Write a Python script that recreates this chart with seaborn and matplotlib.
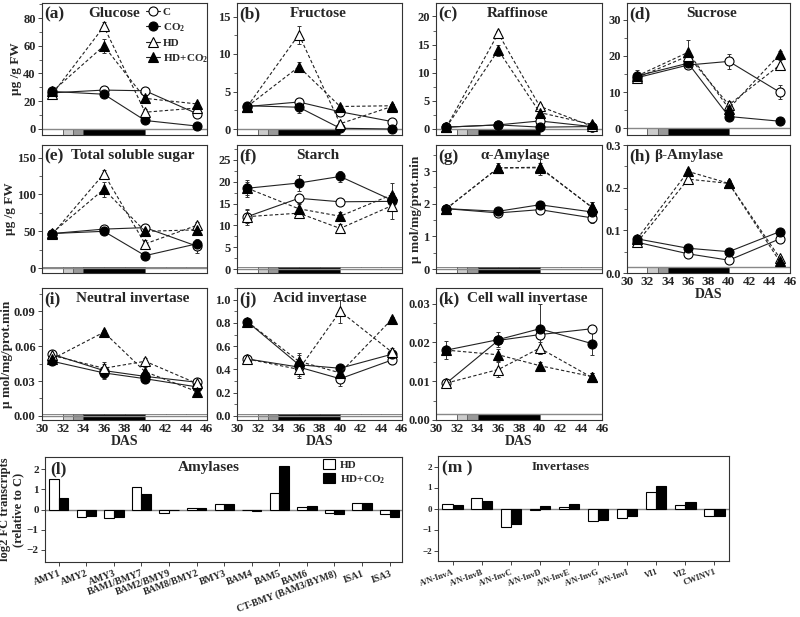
import numpy as np
import pandas as pd
import matplotlib
matplotlib.use("Agg")
import matplotlib.pyplot as plt
from matplotlib.patches import Rectangle, Patch
from matplotlib.lines import Line2D
from matplotlib.ticker import MultipleLocator, AutoMinorLocator, FormatStrFormatter
import seaborn as sns

# ---- data ----
days = [31, 36, 40, 45]
treatments = ["C", "CO2", "HD", "HD+CO2"]
legend_labels = ["C", "CO$_2$", "HD", "HD+CO$_2$"]

# treatment phases drawn as the strip under each time course
phase_edges = [30, 32, 33, 34, 40, 46]
phase_colors = ["white", "#cccccc", "#999999", "black", "white"]

glucose = {"C": [26, 28, 27.5, 11], "CO2": [27, 25, 6, 2],
           "HD": [25, 74, 12, 15], "HD+CO2": [27, 60, 22, 18]}
glucose_err = {"C": [1, 1, 1.5, 2], "CO2": [1, 1.5, 1, 1],
               "HD": [1.5, 3, 2, 2], "HD+CO2": [1, 5, 2, 1.5]}

fructose = {"C": [3.0, 3.6, 2.3, 1.0], "CO2": [3.1, 2.9, 0.1, 0.0],
            "HD": [3.0, 12.6, 0.7, 3.0], "HD+CO2": [3.0, 8.3, 3.0, 3.1]}
fructose_err = {"C": [0.3, 0.3, 0.5, 0.2], "CO2": [0.3, 0.8, 0.1, 0.1],
                "HD": [0.3, 1.2, 0.3, 0.3], "HD+CO2": [0.3, 0.6, 0.2, 0.2]}

raffinose = {"C": [0.3, 0.7, 1.4, 0.4], "CO2": [0.3, 0.7, 0.3, 0.4],
             "HD": [0.3, 17.0, 4.0, 0.5], "HD+CO2": [0.3, 14.0, 2.9, 0.8]}
raffinose_err = {"C": [0.1, 0.2, 0.4, 0.2], "CO2": [0.1, 0.2, 0.1, 0.2],
                 "HD": [0.1, 0.5, 0.5, 0.2], "HD+CO2": [0.1, 1.0, 0.8, 0.5]}

sucrose = {"C": [14, 17.5, 18.5, 10], "CO2": [14.5, 18, 3.3, 2],
           "HD": [14, 20, 6.5, 17.5], "HD+CO2": [14.5, 21, 5.5, 20.5]}
sucrose_err = {"C": [1, 1, 2, 2], "CO2": [1.5, 1, 0.8, 0.5],
               "HD": [1, 1.5, 1, 1.5], "HD+CO2": [1, 3.5, 1, 1]}

total_sugar = {"C": [47, 53, 55, 30], "CO2": [47, 50, 17, 33],
               "HD": [46, 128, 33, 58], "HD+CO2": [48, 107, 50, 52]}
total_sugar_err = {"C": [3, 3, 4, 10], "CO2": [3, 4, 3, 5],
                   "HD": [3, 5, 5, 5], "HD+CO2": [3, 10, 6, 4]}

starch = {"C": [12, 16.2, 15.4, 15.5], "CO2": [18.5, 19.7, 21.2, 15.8],
          "HD": [12, 12.8, 9.3, 14.5], "HD+CO2": [18.5, 13.8, 12.1, 17]}
starch_err = {"C": [1.5, 1, 0.5, 1], "CO2": [2, 1.8, 1.2, 1.5],
              "HD": [1.8, 1, 1, 3], "HD+CO2": [1.5, 1, 1, 2.8]}

alpha_amylase = {"C": [1.85, 1.72, 1.82, 1.57], "CO2": [1.85, 1.77, 1.97, 1.75],
                 "HD": [1.85, 3.1, 3.1, 1.9], "HD+CO2": [1.85, 3.1, 3.12, 1.9]}
alpha_amylase_err = {"C": [0.1, 0.1, 0.1, 0.15], "CO2": [0.1, 0.1, 0.1, 0.1],
                     "HD": [0.1, 0.15, 0.15, 0.15], "HD+CO2": [0.1, 0.1, 0.25, 0.15]}

beta_amylase = {"C": [0.072, 0.045, 0.030, 0.080], "CO2": [0.080, 0.058, 0.050, 0.097],
                "HD": [0.072, 0.220, 0.210, 0.035], "HD+CO2": [0.080, 0.238, 0.210, 0.027]}
beta_amylase_err = {"C": [0.005, 0.005, 0.004, 0.008], "CO2": [0.005, 0.006, 0.005, 0.006],
                    "HD": [0.005, 0.008, 0.008, 0.006], "HD+CO2": [0.005, 0.006, 0.006, 0.005]}

neutral_inv = {"C": [0.053, 0.039, 0.034, 0.029], "CO2": [0.047, 0.037, 0.032, 0.025],
               "HD": [0.052, 0.041, 0.047, 0.028], "HD+CO2": [0.049, 0.072, 0.038, 0.021]}
neutral_inv_err = {"C": [0.002, 0.007, 0.003, 0.002], "CO2": [0.002, 0.004, 0.004, 0.003],
                   "HD": [0.002, 0.004, 0.003, 0.002], "HD+CO2": [0.002, 0.002, 0.004, 0.004]}

acid_inv = {"C": [0.49, 0.42, 0.32, 0.48], "CO2": [0.81, 0.44, 0.41, 0.53],
            "HD": [0.49, 0.40, 0.90, 0.55], "HD+CO2": [0.81, 0.47, 0.37, 0.83]}
acid_inv_err = {"C": [0.03, 0.03, 0.06, 0.03], "CO2": [0.03, 0.10, 0.03, 0.03],
                "HD": [0.03, 0.07, 0.10, 0.03], "HD+CO2": [0.03, 0.05, 0.03, 0.02]}

cw_inv = {"C": [0.0095, 0.0205, 0.0220, 0.0235], "CO2": [0.0180, 0.0207, 0.0235, 0.0197],
          "HD": [0.0095, 0.0130, 0.0185, 0.0110], "HD+CO2": [0.0180, 0.0168, 0.0140, 0.0112]}
cw_inv_err = {"C": [0.0005, 0.001, 0.001, 0.001], "CO2": [0.0023, 0.002, 0.0065, 0.003],
              "HD": [0.0005, 0.002, 0.0015, 0.001], "HD+CO2": [0.0008, 0.0015, 0.001, 0.0008]}

amylase_genes = ["AMY1", "AMY2", "AMY3", "BAM1/BMY7", "BAM2/BMY9", "BAM8/BMY2", "BMY3",
                 "BAM4", "BAM5", "BAM6", "CT-BMY (BAM3/BYM8)", "ISA1", "ISA3"]
amylase_hd = [1.5, -0.35, -0.42, 1.1, -0.15, 0.08, 0.25, 0.0, 0.8, 0.12, -0.15, 0.30, -0.22]
amylase_hdco2 = [0.55, -0.30, -0.37, 0.75, 0.0, 0.05, 0.28, -0.05, 2.15, 0.15, -0.20, 0.33, -0.35]

invertase_genes = ["A/N-InvA", "A/N-InvB", "A/N-InvC", "A/N-InvD", "A/N-InvE",
                   "A/N-InvG", "A/N-InvI", "VI1", "VI2", "CWINV1"]
invertase_hd = [0.22, 0.48, -0.88, -0.08, 0.05, -0.58, -0.45, 0.78, 0.15, -0.38]
invertase_hdco2 = [0.15, 0.38, -0.72, 0.12, 0.20, -0.55, -0.38, 1.05, 0.30, -0.38]

# ---- style ----
sns.set_style("ticks")
plt.rcParams["font.family"] = ["Liberation Serif", "DejaVu Serif"]
plt.rcParams["font.weight"] = "bold"
plt.rcParams["axes.labelweight"] = "bold"
plt.rcParams["mathtext.fontset"] = "custom"
plt.rcParams["mathtext.rm"] = "Liberation Serif:bold"
plt.rcParams["mathtext.bf"] = "Liberation Serif:bold"
plt.rcParams["mathtext.it"] = "Liberation Serif:bold:italic"
plt.rcParams["mathtext.default"] = "rm"

styles = {
    "C": dict(marker="o", mfc="white", ls="-", ms=6.5),
    "CO2": dict(marker="o", mfc="black", ls="-", ms=6.5),
    "HD": dict(marker="^", mfc="white", ls=(0, (3, 2)), ms=7),
    "HD+CO2": dict(marker="^", mfc="black", ls=(0, (3, 2)), ms=7),
}

fig = plt.figure(figsize=(8, 6.17), dpi=100)


def px_axes(x0, x1, y0, y1):
    return fig.add_axes([x0 / 800, 1 - y1 / 617, (x1 - x0) / 800, (y1 - y0) / 617])


cols = [(42, 207), (237, 402), (436, 602), (627, 790)]
rows = [(3, 135), (145, 273), (288, 420)]

ug_label = "µg /g FW"
act_label = "µ mol/mg/prot.min"
panels = [
    dict(tag="(a)", title="Glucose", d=glucose, e=glucose_err, r=0, c=0, ylim=(-4.5, 91), step=20, fmt="%d", yl=ug_label, tx=0.44),
    dict(tag="(b)", title="Fructose", d=fructose, e=fructose_err, r=0, c=1, ylim=(-0.8, 16.8), step=5, fmt="%d", tx=0.49),
    dict(tag="(c)", title="Raffinose", d=raffinose, e=raffinose_err, r=0, c=2, ylim=(-1.1, 22.4), step=5, fmt="%d", tx=0.49),
    dict(tag="(d)", title="Sucrose", d=sucrose, e=sucrose_err, r=0, c=3, ylim=(-1.8, 34.6), step=10, fmt="%d", tx=0.52),
    dict(tag="(e)", title="Total soluble sugar", d=total_sugar, e=total_sugar_err, r=1, c=0, ylim=(-6.5, 167), step=50, fmt="%d", yl=ug_label, tx=0.55),
    dict(tag="(f)", title="Starch", d=starch, e=starch_err, r=1, c=1, ylim=(-0.9, 28.4), step=5, fmt="%d", tx=0.49),
    dict(tag="(g)", title="α-Amylase", d=alpha_amylase, e=alpha_amylase_err, r=1, c=2, ylim=(-0.12, 3.8), step=1, fmt="%d", yl=act_label, tx=0.48),
    dict(tag="(h)", title="β-Amylase", d=beta_amylase, e=beta_amylase_err, r=1, c=3, ylim=(0, 0.3), step=0.1, fmt="%.1f", tx=0.38, xl=True),
    dict(tag="(i)", title="Neutral invertase", d=neutral_inv, e=neutral_inv_err, r=2, c=0, ylim=(-0.0035, 0.110), step=0.03, fmt="%.2f", yl=act_label, tx=0.55, xl=True),
    dict(tag="(j)", title="Acid invertase", d=acid_inv, e=acid_inv_err, r=2, c=1, ylim=(-0.035, 1.10), step=0.2, fmt="%.1f", tx=0.50, xl=True),
    dict(tag="(k)", title="Cell wall invertase", d=cw_inv, e=cw_inv_err, r=2, c=2, ylim=(0, 0.034), step=0.01, fmt="%.2f", tx=0.55, xl=True),
]

for p in panels:
    x0, x1 = cols[p["c"]]
    y0, y1 = rows[p["r"]]
    ax = px_axes(x0, x1, y0, y1)
    lo, hi = p["ylim"]

    for trt in treatments:
        st = styles[trt]
        ax.errorbar(days, p["d"][trt], yerr=p["e"][trt], fmt="none", ecolor="#333333",
                    elinewidth=0.7, capsize=1.5, capthick=0.7, zorder=2)
        sns.lineplot(x=days, y=p["d"][trt], ax=ax, color="#222222", lw=0.8,
                     linestyle=st["ls"], marker=st["marker"], markersize=st["ms"],
                     markerfacecolor=st["mfc"], markeredgecolor="black",
                     markeredgewidth=0.8, zorder=3)

    # phase strip at the bottom of the panel
    strip_h = max(-lo / (hi - lo), 0.045)
    for a, b, col in zip(phase_edges[:-1], phase_edges[1:], phase_colors):
        ax.add_patch(Rectangle((a, 0), b - a, strip_h, transform=ax.get_xaxis_transform(),
                               facecolor=col, edgecolor="#555555", lw=0.5, zorder=1))
    ax.axhline(0 if lo < 0 else lo + strip_h * (hi - lo), color="#888888", lw=1.0, zorder=1)

    ax.set_xlim(30, 46)
    ax.set_ylim(lo, hi)
    ax.xaxis.set_major_locator(MultipleLocator(2))
    ax.yaxis.set_major_locator(MultipleLocator(p["step"]))
    ax.yaxis.set_minor_locator(AutoMinorLocator(2))
    ax.yaxis.set_major_formatter(FormatStrFormatter(p["fmt"]))
    ax.tick_params(axis="x", direction="in", length=4, width=0.6, labelsize=9.5, pad=2)
    ax.tick_params(axis="y", direction="out", length=3, width=0.6, labelsize=9, pad=1.5)
    ax.tick_params(axis="y", which="minor", direction="out", length=2, width=0.5)
    for lab in ax.get_xticklabels() + ax.get_yticklabels():
        lab.set_fontweight("bold")
    for s in ax.spines.values():
        s.set_linewidth(0.8)
        s.set_color("#333333")
    if p.get("xl"):
        ax.set_xlabel("DAS", fontsize=10, labelpad=0)
    else:
        ax.set_xlabel("")
        ax.tick_params(axis="x", labelbottom=False)
    ax.set_ylabel(p.get("yl", ""), fontsize=9.5, labelpad=1)
    ax.text(0.015, 0.91, p["tag"], transform=ax.transAxes, fontsize=12.5,
            fontweight="bold", va="center", ha="left")
    ax.text(p["tx"], 0.92, p["title"], transform=ax.transAxes, fontsize=11,
            fontweight="bold", va="center", ha="center")

    if p["tag"] == "(a)":
        handles = [Line2D([], [], color="#222222", lw=0.8, marker=styles[t]["marker"],
                          markersize=styles[t]["ms"], markerfacecolor=styles[t]["mfc"],
                          markeredgecolor="black", markeredgewidth=0.8) for t in treatments]
        ax.legend(handles, legend_labels, loc="upper left", bbox_to_anchor=(0.63, 0.97),
                  frameon=False, fontsize=8, handlelength=1.3, handletextpad=0.2,
                  labelspacing=0.4, borderpad=0, borderaxespad=0)


def bar_panel(ax, genes, hd, hdco2, title, tag, title_x, lab_size, ytick_size):
    df = pd.DataFrame({"gene": genes, "HD": hd, "HD+CO2": hdco2})
    long = df.melt(id_vars="gene", var_name="trt", value_name="fc")
    sns.barplot(data=long, x="gene", y="fc", hue="trt", palette=["white", "black"],
                edgecolor="black", linewidth=0.8, width=0.7, saturation=1, ax=ax,
                legend=False, zorder=2)
    ax.axhline(0, color="#888888", lw=1.0, zorder=1)
    ax.set_xlabel("")
    ax.set_ylabel("")
    ax.set_xticks(range(len(genes)))
    ax.set_xticklabels(genes, rotation=20, ha="right", rotation_mode="anchor",
                       fontsize=lab_size, fontweight="bold")
    ax.yaxis.set_major_locator(MultipleLocator(1))
    ax.tick_params(axis="x", direction="out", length=3, width=0.6, pad=2)
    ax.tick_params(axis="y", direction="out", length=3, width=0.6, labelsize=ytick_size, pad=1.5)
    for lab in ax.get_yticklabels():
        lab.set_fontweight("bold")
    for s in ax.spines.values():
        s.set_linewidth(0.8)
        s.set_color("#333333")
    ax.text(0.015, 0.88, tag, transform=ax.transAxes, fontsize=12.5,
            fontweight="bold", va="center", ha="left")
    ax.text(title_x, 0.9, title, transform=ax.transAxes, fontsize=11 if tag == "(l)" else 9.5,
            fontweight="bold", va="center", ha="center")


ax_l = px_axes(45, 402, 457, 562)
bar_panel(ax_l, amylase_genes, amylase_hd, amylase_hdco2, "Amylases", "(l)", 0.46, 7, 8)
ax_l.set_xlim(-0.5, 12.45)
ax_l.set_ylim(-2.6, 2.6)
ax_l.set_ylabel("log2 FC transcripts\n(relative to C)", fontsize=9, labelpad=2, linespacing=1.1)
ax_l.legend([Patch(facecolor="white", edgecolor="black", lw=0.8),
             Patch(facecolor="black", edgecolor="black", lw=0.8)],
            ["HD", "HD+CO$_2$"], loc="upper left", bbox_to_anchor=(0.78, 0.98),
            frameon=False, fontsize=8, handlelength=1.0, handleheight=1.0,
            handletextpad=0.5, labelspacing=0.3, borderpad=0, borderaxespad=0)

ax_m = px_axes(438, 729, 456, 561)
bar_panel(ax_m, invertase_genes, invertase_hd, invertase_hdco2, "Invertases", "(m )", 0.42, 6, 6.5)
ax_m.set_xlim(-0.5, 9.5)
ax_m.set_ylim(-2.5, 2.5)

fig.savefig("out.png", dpi=100)
